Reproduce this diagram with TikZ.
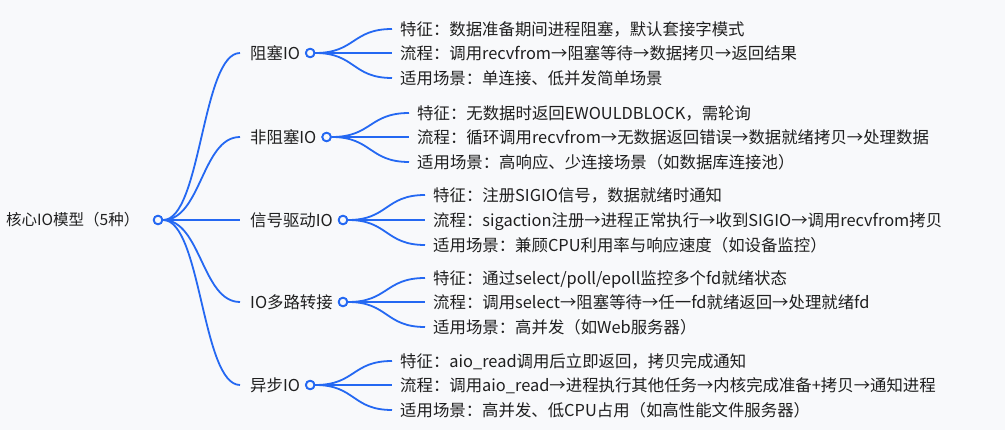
\documentclass[tikz,border=0pt]{standalone}
\usepackage{fontspec}
\setmainfont{Noto Sans CJK SC}
\definecolor{bg}{RGB}{248,249,251}
\definecolor{mmblue}{RGB}{36,104,242}
\definecolor{ink}{RGB}{31,31,31}
\begin{document}
\begin{tikzpicture}[x=1pt,y=-1pt,
  txt/.style={font=\fontsize{16.4}{20}\selectfont, text=ink, inner sep=0pt, text height=12.5pt, text depth=0pt, anchor=west},
  roottxt/.style={txt, font=\fontsize{15.5}{19}\selectfont, text height=11.8pt},
  dot/.style={circle, draw=mmblue, line width=1.8pt, fill=bg, minimum size=8.5pt, inner sep=0pt},
  edge/.style={draw=mmblue, line width=1.8pt}]
\fill[bg] (0,0) rectangle (1005,430);
\useasboundingbox (0,0) rectangle (1005,430);

% root
\node[roottxt] (root) at (6,220) {核心IO模型（5种）};
\node[dot] (rc) at (158,220) {};

% branches
\node[txt] (b1) at (250,53) {阻塞IO};
\node[txt] (b2) at (250,137) {非阻塞IO};
\node[txt] (b3) at (250,220) {信号驱动IO};
\node[txt] (b4) at (250,302) {IO多路转接};
\node[txt] (b5) at (250,385) {异步IO};
\foreach \i in {1,...,5}{
  \coordinate (e\i) at ([xshift=-10pt]b\i.west);
}
% root connectors
\foreach \i in {1,...,5}{
  \draw[edge] (rc.east) .. controls +(38,0) and +(-38,0) .. (e\i);
}
% leaves of branch 1
\node[txt] (l11) at (400,29) {特征：数据准备期间进程阻塞，默认套接字模式};
\node[txt] (l12) at (400,53) {流程：调用recvfrom→阻塞等待→数据拷贝→返回结果};
\node[txt] (l13) at (400,78) {适用场景：单连接、低并发简单场景};
% branch 2
\node[txt] (l21) at (417,113) {特征：无数据时返回EWOULDBLOCK，需轮询};
\node[txt] (l22) at (417,137) {流程：循环调用recvfrom→无数据返回错误→数据就绪拷贝→处理数据};
\node[txt] (l23) at (417,162) {适用场景：高响应、少连接场景（如数据库连接池）};
% branch 3
\node[txt] (l31) at (433,195) {特征：注册SIGIO信号，数据就绪时通知};
\node[txt] (l32) at (433,220) {流程：sigaction注册→进程正常执行→收到SIGIO→调用recvfrom拷贝};
\node[txt] (l33) at (433,245) {适用场景：兼顾CPU利用率与响应速度（如设备监控）};
% branch 4
\node[txt] (l41) at (433,278) {特征：通过select/poll/epoll监控多个fd就绪状态};
\node[txt] (l42) at (433,302) {流程：调用select→阻塞等待→任一fd就绪返回→处理就绪fd};
\node[txt] (l43) at (433,327) {适用场景：高并发（如Web服务器）};
% branch 5
\node[txt] (l51) at (400,361) {特征：aio\_read调用后立即返回，拷贝完成通知};
\node[txt] (l52) at (400,385) {流程：调用aio\_read→进程执行其他任务→内核完成准备+拷贝→通知进程};
\node[txt] (l53) at (400,410) {适用场景：高并发、低CPU占用（如高性能文件服务器）};

% leaf connectors and branch dots
\foreach \i in {1,...,5}{
  \node[dot] (c\i) at ([xshift=10pt]b\i.east) {};
  \foreach \j in {1,2,3}{
    \coordinate (f\i\j) at ([xshift=-8pt]l\i\j.west);
    \draw[edge] (c\i.east) .. controls +(40,0) and +(-40,0) .. (f\i\j);
  }
  \node[dot] at (c\i) {};
}
\node[dot] at (rc) {};
\end{tikzpicture}
\end{document}
